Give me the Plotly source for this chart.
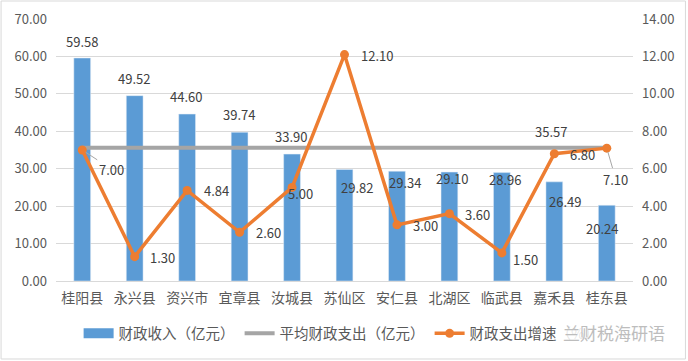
import plotly.graph_objects as go

# ---------------- data ----------------
categories = ["桂阳县", "永兴县", "资兴市", "宜章县", "汝城县", "苏仙区",
              "安仁县", "北湖区", "临武县", "嘉禾县", "桂东县"]
revenue = [59.58, 49.52, 44.60, 39.74, 33.90, 29.82, 29.34, 29.10, 28.96, 26.49, 20.24]
avg_expenditure = 35.57
growth = [7.00, 1.30, 4.84, 2.60, 5.00, 12.10, 3.00, 3.60, 1.50, 6.80, 7.10]

name_rev = "财政收入（亿元）"
name_avg = "平均财政支出（亿元）"
name_growth = "财政支出增速（%）"
left_ticks = [0, 10, 20, 30, 40, 50, 60, 70]
right_ticks = [0, 2, 4, 6, 8, 10, 12, 14]

# ---------------- label placement (pixels) ----------------
rev_label_shift = [(0, 17), (-1, 17), (-1, 18), (-1, 18), (-1, 18), (12, -18),
                   (8, -11), (3, -6), (3, -7), (11, -20), (-5, -23)]
growth_label_shift = [(29, -19), (28, -1), (29, 0), (29, 0), (8, -6), (32, -1),
                      (29, -1), (28, -1), (24, -7), (28, -1), (9, -31)]
arrow_idx = {0, 10}

BLUE = "#5b9bd5"
ORANGE = "#ed7d31"
GRAY = "#a5a5a5"
TXT = "#404040"
AX = "#595959"
FONT = "Noto Sans CJK SC"

fig = go.Figure()
fig.add_trace(go.Bar(x=categories, y=revenue, name=name_rev, marker_color=BLUE,
                     width=0.32, showlegend=False))
# legend proxy for bars (wide rectangle sample)
fig.add_trace(go.Scatter(x=[None], y=[None], mode="lines", name=name_rev,
                         line=dict(color=BLUE, width=11)))
fig.add_trace(go.Scatter(x=categories, y=[avg_expenditure] * len(categories),
                         mode="lines", name=name_avg,
                         line=dict(color=GRAY, width=4)))
fig.add_trace(go.Scatter(x=categories, y=growth, mode="lines+markers",
                         name=name_growth, yaxis="y2",
                         line=dict(color=ORANGE, width=3.5),
                         marker=dict(color=ORANGE, size=9)))

annotations = []
for c, v, (dx, dy) in zip(categories, revenue, rev_label_shift):
    annotations.append(dict(x=c, y=v, xref="x", yref="y", text=f"{v:.2f}",
                            showarrow=False, xshift=dx, yshift=dy,
                            font=dict(family=FONT, size=13, color=TXT)))
for i, (c, v, (dx, dy)) in enumerate(zip(categories, growth, growth_label_shift)):
    if i in arrow_idx:
        annotations.append(dict(x=c, y=v, xref="x", yref="y2", text=f"{v:.2f}",
                                showarrow=True, ax=dx, ay=-dy, arrowhead=0,
                                arrowwidth=1, arrowcolor="#a6a6a6", standoff=4,
                                font=dict(family=FONT, size=13, color=TXT)))
    else:
        annotations.append(dict(x=c, y=v, xref="x", yref="y2", text=f"{v:.2f}",
                                showarrow=False, xshift=dx, yshift=dy,
                                font=dict(family=FONT, size=13, color=TXT)))
# average label
annotations.append(dict(x=categories[9], y=avg_expenditure, xref="x", yref="y",
                        text=f"{avg_expenditure:.2f}", showarrow=False,
                        xshift=-3, yshift=16,
                        font=dict(family=FONT, size=13, color=TXT)))
# watermark
annotations.append(dict(x=1.058, y=-0.197, xref="paper", yref="paper",
                        text="兰财税海研语", showarrow=False, xanchor="right",
                        yanchor="middle", bgcolor="rgba(255,255,255,0.85)",
                        borderpad=0,
                        font=dict(family=FONT, size=17, color="#bdbdbd")))

fig.update_layout(
    width=688, height=361,
    margin=dict(l=56, r=55, t=19, b=80, autoexpand=False),
    paper_bgcolor="white", plot_bgcolor="white",
    font=dict(family=FONT, size=13, color=AX),
    xaxis=dict(type="category", range=[-0.5, len(categories) - 0.5],
               autorange=False, automargin=False,
               showgrid=False, showline=False, ticks="", ticklabelstandoff=7,
               tickfont=dict(size=14, color=AX), fixedrange=True),
    yaxis=dict(range=[0, 70], autorange=False, automargin=False,
               tickvals=left_ticks, tickformat=".2f",
               showgrid=True, gridcolor="#d9d9d9", gridwidth=1,
               zeroline=True, zerolinecolor="#d9d9d9", zerolinewidth=1,
               showline=False, ticks="", ticklabelstandoff=8,
               tickfont=dict(size=13, color=AX)),
    yaxis2=dict(range=[0, 14], autorange=False, automargin=False,
                tickvals=right_ticks, tickformat=".2f",
                overlaying="y", side="right", showgrid=False, zeroline=False,
                showline=False, ticks="", ticklabelstandoff=8,
                tickfont=dict(size=13, color=AX)),
    legend=dict(orientation="h", x=0.495, xanchor="center", y=-0.2,
                yanchor="middle", font=dict(size=14.5, color=AX),
                itemwidth=30, bgcolor="rgba(0,0,0,0)"),
    annotations=annotations,
    shapes=[dict(type="rect", xref="paper", yref="paper",
                 x0=-0.0952, x1=1.0909, y0=-0.2977, y1=1.0687,
                 line=dict(color="#d9d9d9", width=1), layer="below")],
    showlegend=True,
)

fig.write_html("out.html", config={"displayModeBar": False},
               post_script="document.body.style.margin='0';document.body.style.padding='0';")
